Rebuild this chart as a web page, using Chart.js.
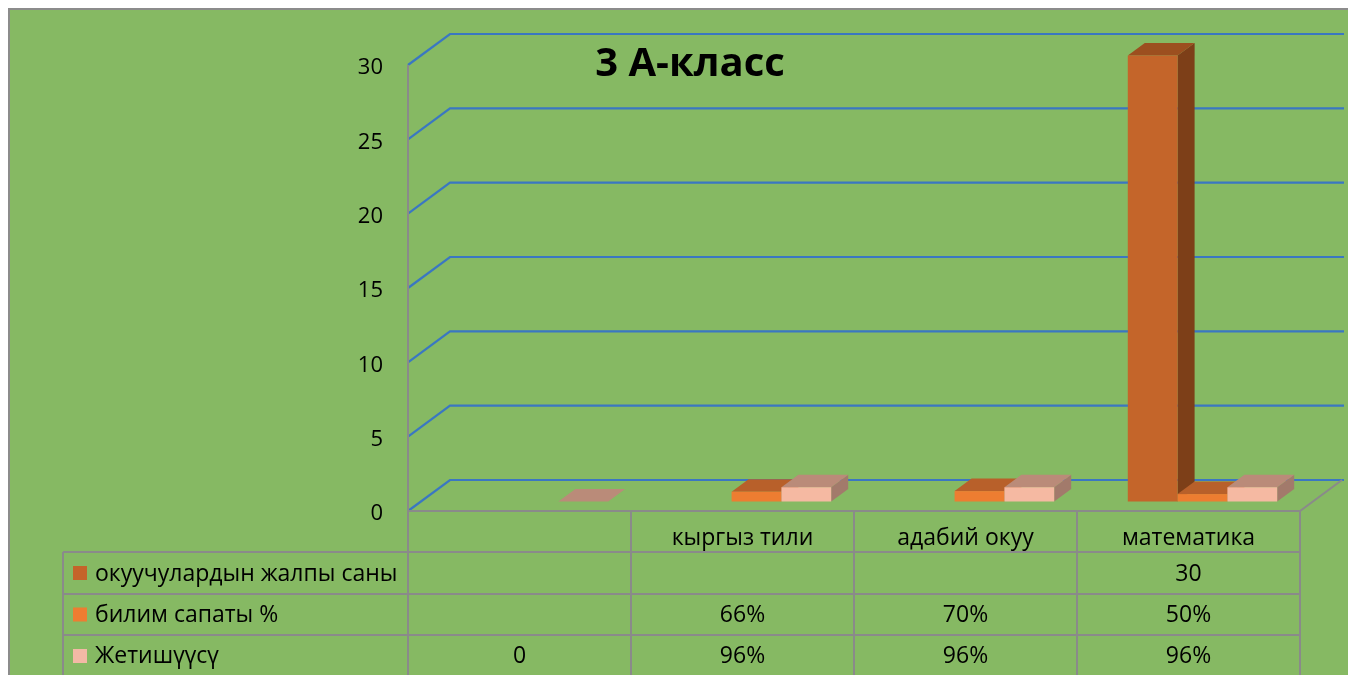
<!DOCTYPE html>
<html><head><meta charset="utf-8">
<script src="https://cdn.jsdelivr.net/npm/chart.js@4.4.1/dist/chart.umd.min.js"></script>
<style>html,body{margin:0;padding:0;background:#fff;overflow:hidden}#wrap{width:1348px;height:675px;position:relative}</style>
</head><body><div id="wrap"><canvas id="c"></canvas></div>
<script>
const categories = ['', 'кыргыз тили', 'адабий окуу', 'математика'];
const seriesNames = ['окуучулардын жалпы саны', 'билим сапаты %', 'Жетишүүсү'];
const totalStudents = [null, null, null, 30];
const qualityShare = [null, 0.66, 0.70, 0.50];
const successShare = [0, 0.96, 0.96, 0.96];
const yMin = 0, yMax = 30, yStep = 5;
const chartTitle = '3 А-класс';

const seriesStyle = [
  {front:'#C4652A', top:'#9C4F1F', side:'#7D3F18', legend:'#C5642A'},
  {front:'#ED7D31', top:'#B8602A', side:'#A3541F', legend:'#ED7D31'},
  {front:'#F5B9A2', top:'#BA8B79', side:'#A27A6B', legend:'#F4B9A5'}
];
const GREEN = '#86B963', GRID = '#3A77C2', LINE = '#8A8A8A';
const FS = {x:14, y:-9.5}, DEPTH = {x:17, y:-12.5}, WALL = {x:42, y:-31};
const FONT = "'Open Sans', 'DejaVu Sans', sans-serif";

function fmtCell(v, isShare){
  if (v === null || v === undefined) return '';
  if (v === 0) return '0';
  return isShare ? Math.round(v*100) + '%' : String(v);
}

const plugin3d = {
  id: 'plugin3d',
  beforeDraw(chart){
    const ctx = chart.ctx;
    ctx.save();
    ctx.fillStyle = '#fff';
    ctx.fillRect(0,0,chart.width,chart.height);
    ctx.fillStyle = GREEN;
    ctx.fillRect(9,9,chart.width,chart.height);
    ctx.strokeStyle = '#8C8C8C';
    ctx.lineWidth = 2;
    ctx.beginPath();
    ctx.moveTo(9, chart.height); ctx.lineTo(9, 9); ctx.lineTo(chart.width, 9);
    ctx.stroke();
    ctx.restore();
  },
  beforeDatasetsDraw(chart){
    const ctx = chart.ctx, a = chart.chartArea, ys = chart.scales.y;
    ctx.save();
    ctx.strokeStyle = GRID; ctx.lineWidth = 2.2;
    for (let v = yMin; v <= yMax; v += yStep){
      const y = ys.getPixelForValue(v);
      ctx.beginPath();
      ctx.moveTo(a.left, y);
      ctx.lineTo(a.left + WALL.x, y + WALL.y);
      ctx.lineTo(a.right + WALL.x + 2, y + WALL.y);
      ctx.stroke();
    }
    ctx.strokeStyle = LINE; ctx.lineWidth = 2;
    ctx.beginPath();
    ctx.moveTo(a.left, a.bottom);
    ctx.lineTo(a.right, a.bottom);
    ctx.lineTo(a.right + WALL.x, a.bottom + WALL.y);
    ctx.stroke();
    ctx.beginPath();
    ctx.moveTo(a.left, a.bottom); ctx.lineTo(a.left, ys.getPixelForValue(yMax));
    ctx.stroke();
    const n = chart.data.labels.length;
    for (let i = 0; i < n; i++){
      chart.data.datasets.forEach((ds, d) => {
        const v = ds.data[i];
        if (v === null || v === undefined) return;
        const el = chart.getDatasetMeta(d).data[i];
        const p = el.getProps(['x','y','base','width'], true);
        const st = seriesStyle[d];
        const L = p.x - p.width/2 + FS.x, R = p.x + p.width/2 + FS.x;
        const T = p.y + FS.y, B = p.base + FS.y;
        ctx.fillStyle = st.side;
        ctx.beginPath();
        ctx.moveTo(R,B); ctx.lineTo(R,T); ctx.lineTo(R+DEPTH.x,T+DEPTH.y); ctx.lineTo(R+DEPTH.x,B+DEPTH.y); ctx.closePath();
        ctx.fill();
        ctx.fillStyle = st.top;
        ctx.beginPath();
        ctx.moveTo(L,T); ctx.lineTo(R,T); ctx.lineTo(R+DEPTH.x,T+DEPTH.y); ctx.lineTo(L+DEPTH.x,T+DEPTH.y); ctx.closePath();
        ctx.fill();
        if (B - T > 0.2){
          ctx.fillStyle = st.front;
          ctx.fillRect(L, T, R-L, B-T);
        }
      });
    }
    ctx.restore();
    return false;
  },
  afterDraw(chart){
    const ctx = chart.ctx, a = chart.chartArea, xs = chart.scales.x;
    ctx.save();
    ctx.fillStyle = '#000';
    ctx.font = "bold 40px " + FONT;
    ctx.textAlign = 'center'; ctx.textBaseline = 'alphabetic';
    ctx.fillText(chartTitle, 690, 76);
    const n = categories.length;
    const cw = (a.right - a.left) / n;
    const rows = [a.bottom, 552, 594, 635, 677];
    const tableLeft = 63;
    ctx.strokeStyle = LINE; ctx.lineWidth = 2;
    ctx.beginPath();
    for (let k = 0; k <= n; k++){
      const x = a.left + k*cw;
      ctx.moveTo(x, a.bottom); ctx.lineTo(x, chart.height);
    }
    for (let r = 1; r < rows.length - 1; r++){
      ctx.moveTo(tableLeft, rows[r]); ctx.lineTo(a.right, rows[r]);
    }
    ctx.moveTo(tableLeft, rows[1]); ctx.lineTo(tableLeft, chart.height);
    ctx.stroke();

    ctx.fillStyle = '#000';
    ctx.font = "23px " + FONT;
    ctx.textAlign = 'center';
    categories.forEach((c, i) => {
      ctx.fillText(c, xs.getPixelForValue(i), 545);
    });
    const seriesVals = [totalStudents, qualityShare, successShare];
    const shareFlags = [false, true, true];
    const baselines = [581, 622, 663];
    seriesVals.forEach((vals, s) => {
      const rc = (rows[s+1] + rows[s+2]) / 2;
      ctx.fillStyle = seriesStyle[s].legend;
      ctx.fillRect(73, rc - 7, 14, 14);
      ctx.fillStyle = '#000';
      ctx.textAlign = 'left';
      ctx.fillText(seriesNames[s], 95, baselines[s]);
      ctx.textAlign = 'center';
      vals.forEach((v, i) => {
        ctx.fillText(fmtCell(v, shareFlags[s]), xs.getPixelForValue(i), baselines[s]);
      });
    });
    ctx.restore();
  }
};

new Chart(document.getElementById('c'), {
  type: 'bar',
  data: {
    labels: categories,
    datasets: [
      {label: seriesNames[0], data: totalStudents, backgroundColor: seriesStyle[0].front},
      {label: seriesNames[1], data: qualityShare, backgroundColor: seriesStyle[1].front},
      {label: seriesNames[2], data: successShare, backgroundColor: seriesStyle[2].front}
    ]
  },
  options: {
    responsive: true,
    maintainAspectRatio: false,
    animation: false,
    events: [],
    layout: {padding: {left: 0, right: 48, top: 65, bottom: 164}},
    categoryPercentage: 0.67,
    barPercentage: 1.0,
    plugins: {legend: {display: false}, tooltip: {enabled: false}, title: {display: false}},
    scales: {
      x: {display: false},
      y: {
        min: yMin, max: yMax,
        ticks: {stepSize: yStep, padding: 25, labelOffset: 3, color: '#000', font: {family: FONT, size: 22}},
        grid: {display: false, drawTicks: false},
        border: {display: false},
        afterFit(scale){ scale.width = 408; }
      }
    }
  },
  plugins: [plugin3d]
});
</script>
</body></html>
